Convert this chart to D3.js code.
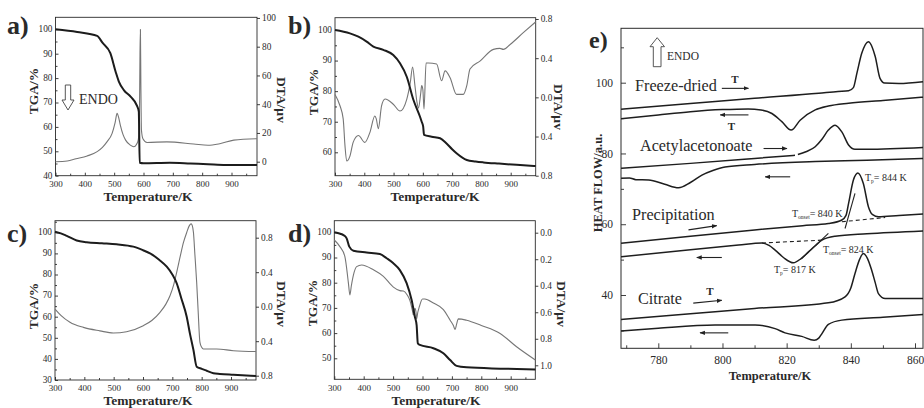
<!DOCTYPE html>
<html>
<head>
<meta charset="utf-8">
<script src="https://cdn.jsdelivr.net/npm/d3@7"></script>
<style>
  body { margin: 0; background: #fff; }
  svg { display: block; }
  text { font-family: "Liberation Serif", "Times New Roman", serif; fill: #2a2a2a; }
</style>
</head>
<body>
<svg id="fig" width="924" height="408"></svg>
<script>
// ---- data: [temperature K, value] ----
const tgaA = [[300,100],[374,98.9],[442,97.3],[460,94.5],[487,90.2],[505,82.6],[516,78.6],[533,75.1],[556,72.4],[578,68.6],[584,66.3],[587,45.3],[600,45.1],[690,45.3],[760,45.0],[820,44.7],[880,44.4],[987,44.4]];
const dtaA = [[300,0],[340,0.5],[370,2],[408,4],[442,7],[460,10],[476,14],[493,19.7],[503,27],[510,33.6],[515,31],[521,25.5],[530,19],[539,15],[555,11.5],[567,10.4],[576,12],[582,15],[586,28],[588,75],[589.5,92],[591,55],[593,22],[598,16],[612,13.4],[680,13.8],[771,12.3],[820,11.4],[860,12.5],[908,15],[987,16]];

const tgaB = [[300,100],[351,98.9],[380,97.8],[408,96.2],[431,94.6],[465,93.5],[499,91.8],[522,89.1],[545,84.7],[568,77.1],[590,71.7],[596,70],[601,68.5],[604,65.7],[630,65.1],[659,64.6],[681,62.9],[700,61],[715,59.7],[750,57.5],[780,57],[807,56.7],[860,56.3],[920,55.9],[985,55.5]];
const dtaB = [[300,0.03],[317,-0.086],[328,-0.22],[334,-0.49],[340,-0.65],[351,-0.6],[362,-0.46],[380,-0.39],[402,-0.46],[419,-0.36],[436,-0.19],[441,-0.22],[448,-0.32],[459,-0.086],[471,-0.017],[499,-0.07],[522,-0.14],[545,-0.02],[557,0.15],[565,0.31],[573,0.12],[580,-0.05],[585,-0.11],[593,0.05],[596,0.12],[600,0.08],[604,-0.12],[611,0.35],[619,0.35],[647,0.34],[664,0.17],[676,0.27],[693,0.2],[715,0.03],[738,0.03],[750,0.12],[761,0.29],[795,0.37],[841,0.49],[863,0.5],[875,0.49],[898,0.54],[943,0.66],[985,0.77]];

const tgaC = [[300,100.3],[320,99.5],[340,98.3],[374,96.1],[408,95.3],[460,94.8],[510,94.3],[567,93.2],[600,91.5],[624,90],[655,87],[681,83.7],[700,80],[715,75.8],[730,69],[749,60],[760,52],[772,44.2],[783,36.3],[800,35.3],[817,34.4],[840,33.2],[862,32.9],[908,32.5],[985,31.9]];
const dtaC = [[300,-0.027],[320,-0.1],[351,-0.18],[397,-0.24],[453,-0.28],[499,-0.305],[544,-0.29],[601,-0.22],[630,-0.16],[658,-0.066],[678,0.03],[692,0.127],[705,0.26],[715,0.4],[728,0.6],[738,0.745],[749,0.86],[758,0.94],[764,0.96],[768,0.94],[772,0.86],[777,0.6],[783,0.28],[788,-0.05],[794,-0.41],[800,-0.47],[806,-0.49],[851,-0.49],[908,-0.51],[985,-0.52]];

const tgaD = [[300,100],[320,99.4],[331,98.9],[342,97.6],[351,94.3],[365,92.7],[410,92],[455,91.4],[478,89.7],[500,87.8],[523,85],[546,79.8],[563,73.1],[574,66.5],[580,63.2],[584,56],[591,55.3],[637,54],[671,52],[694,49.3],[716,47],[750,46.4],[864,45.9],[984,45.6]];
const dtaD = [[300,0.055],[319,0.105],[336,0.18],[348,0.38],[353,0.47],[358,0.4],[365,0.32],[376,0.256],[393,0.244],[433,0.28],[467,0.33],[501,0.41],[523,0.437],[535,0.44],[548,0.47],[557,0.51],[565,0.58],[569,0.62],[574,0.57],[578,0.6],[580,0.65],[584,0.6],[589,0.56],[600,0.5],[608,0.5],[637,0.53],[671,0.58],[694,0.66],[705,0.7],[711,0.73],[716,0.69],[722,0.65],[750,0.66],[800,0.7],[864,0.76],[920,0.86],[984,0.96]];

// panel e: DSC heating / cooling curves (null = small break in the trace)
const fdHeat = [[768.4,92.5],[790,94.1],[810,95.6],[830,97.0],[836,97.5],[839.3,97.7],[840.8,98.6],[841.9,102.7],[843.4,108.3],[845.5,111.6],[847.6,107.4],[849.1,101.2],[850.5,99.9],[855,99.8],[862.5,100.3]];
const fdCool = [[768.4,89.8],[780,90.9],[790,91.8],[800,92.4],[808,92.6],[812,92.3],[815.4,91.3],[818.5,89],[821.4,86.6],[824.2,89.4],[828.9,92.3],[833,93.4],[839.3,94.2],[850,95],[862.5,95.9]];
const acHeat = [[768.4,75.8],[790,77.2],[810,78.6],[822.6,79.5],[822.9,null],[823.5,79.7],[826,80.5],[828.9,81.9],[831,84],[833,86.6],[835.1,88],[837.2,86.1],[839.3,82.4],[841.3,81.2],[845,81.2],[862.5,81.7]];
const acCool = [[768.4,73.0],[771,73.1],[773,72.6],[777,72.5],[782,71.3],[786.3,70.3],[790,71.8],[793.6,73.9],[797,75.2],[800.8,76.2],[810,76.9],[828.9,77.7],[845,78.1],[862.5,78.6]];
const prHeat = [[768.4,54.6],[790,56.6],[810,58.4],[825,59.6],[833,60.2],[837.2,61.2],[838.5,62.5],[839.3,65.9],[840.8,72.5],[842.2,74.5],[843.9,71.5],[845.5,64.9],[846.8,62.7],[848.6,62.1],[855,62.5],[862.5,62.9]];
const prCool = [[768.4,50.8],[790,52.8],[805,54.1],[812.3,54.7],[814.5,54],[816.4,52.7],[819,50.6],[822.1,49.1],[824.5,50.3],[826.8,52.2],[829,54],[831,55.5],[835.1,56.6],[845,57.3],[862.5,58.1]];
const ctHeat = [[768.4,33.1],[790,34.7],[810,36.2],[833,37.8],[838.2,39.5],[840,42],[841.3,46.1],[842.8,50.2],[843.9,51.7],[845.2,50.3],[846.5,47],[847.6,43.5],[848.6,40.4],[850.7,39],[862.5,39]];
const ctCool = [[768.4,29.8],[780,30.6],[797.7,31.5],[810.2,31.5],[816.4,30.5],[819.5,29.3],[824.7,28.3],[828.6,27.2],[830,27.8],[831,29.1],[833,31.7],[837.2,32.9],[850,33.7],[862.5,34.5]];

// onset construction lines in e: [[T1,v1],[T2,v2]]
const dashedLines = [[[837.2,60.7],[850.7,61.9]], [[812.3,54.7],[831,55.5]]];
const tangentLines = [[[838.2,58.8],[841.3,68.7]], [[824.7,50.3],[833,57.4]]];
// direction arrows in e: [T from, T to, v from, v to]
const dirArrows = [[799.8,808.1,98.4,98.4],[808.1,799.3,90.9,90.9],[812.8,820.1,81.4,81.4],[821.1,813.3,73.4,73.4],
                   [789.4,798.2,58.4,59.6],[799.8,792,50.6,50.6],[790.9,799.8,37.7,38.5],[801.8,793,29.3,29.3]];

// ticks
const tempTicks = [300,400,500,600,700,800,900];
const tempMinor = [350,450,550,650,750,850,950];
const tgaTicksA = [40,50,60,70,80,90,100];
const tgaTicksB = [60,70,80,90,100];
const tgaTicksC = [30,40,50,60,70,80,90,100];
const tgaTicksD = [50,60,70,80,90,100];
const dtaTicksA = [0,20,40,60,80,100];
const dtaTicksBC = [-0.8,-0.4,0,0.4,0.8];
const dtaTicksD = [0,0.2,0.4,0.6,0.8,1.0];
const eTempTicks = [780,800,820,840,860];
const eTempMinor = [770,790,810,830,850];
const eFlowTicks = [40,60,80,100];
const eFlowMinor = [30,50,70,90,110];

const svg = d3.select('#fig');
const ink = '#2a2a2a';

function axis(g, ax, tr, size) {
  const a = g.append('g').attr('transform', tr).call(ax);
  a.select('.domain').remove();
  a.selectAll('line').attr('stroke', ink).attr('stroke-width', 0.9);
  a.selectAll('text').attr('font-size', size).attr('font-family', 'Liberation Serif').attr('fill', '#333');
  return a;
}

function title(g, txt, x, y, rot, size) {
  g.append('text').attr('transform', `translate(${x},${y}) rotate(${rot})`)
    .attr('text-anchor', 'middle').attr('dy', '0.35em')
    .attr('font-size', size).attr('font-weight', 'bold').text(txt);
}

function tgaPanel(p) {
  const g = svg.append('g');
  const b = p.box;
  const x = d3.scaleLinear().domain([300, 900]).range(p.xr);
  const yL = d3.scaleLinear().domain(p.yLd).range(p.yLr);
  const yR = d3.scaleLinear().domain(p.yRd).range(p.yRr);

  g.append('rect').attr('x', b.l).attr('y', b.t).attr('width', b.r - b.l).attr('height', b.b - b.t)
    .attr('fill', 'none').attr('stroke', ink).attr('stroke-width', 0.9);

  axis(g, d3.axisBottom(x).tickValues(tempTicks).tickSize(-3).tickPadding(5), `translate(0,${b.b})`, 9);
  axis(g, d3.axisBottom(x).tickValues(tempMinor.filter(v => x(v) < b.r - 1)).tickSize(-2).tickFormat(''), `translate(0,${b.b})`, 9);
  const la = axis(g, d3.axisLeft(yL).tickValues(p.lt).tickSize(-3).tickPadding(3), `translate(${b.l},0)`, 9.3);
  la.selectAll('text').attr('dy', '0.25em');
  axis(g, d3.axisLeft(yL).tickValues(p.lt.map(v => v + 5).filter(v => yL(v) > b.t + 1)).tickSize(-2).tickFormat(''), `translate(${b.l},0)`, 9.3);
  axis(g, d3.axisRight(yR).tickValues(p.rt).tickSize(3).tickPadding(2).tickFormat(p.rf), `translate(${b.r},0)`, 9.3);

  const line = (ys) => d3.line().x(d => x(d[0])).y(d => ys(d[1])).curve(d3.curveMonotoneX);
  g.append('path').datum(p.dta).attr('d', line(yR)).attr('fill', 'none').attr('stroke', '#767676').attr('stroke-width', 1.1);
  g.append('path').datum(p.tga).attr('d', line(yL)).attr('fill', 'none').attr('stroke', '#1c1c1c').attr('stroke-width', 2);

  title(g, 'TGA/%', p.tt[0], p.tt[1], -90, 13.5);
  title(g, 'DTA/\u00b5v', p.dt[0], p.dt[1], 90, 13.5);
  g.append('text').attr('x', p.xt[0]).attr('y', p.xt[1]).attr('text-anchor', 'middle')
    .attr('font-size', 13.5).attr('font-weight', 'bold').text('Temperature/K');
  g.append('text').attr('x', p.lab[0]).attr('y', p.lab[1]).attr('font-size', 26).attr('font-weight', 'bold')
    .attr('fill', '#111').text(p.name);
  return g;
}

const absFmt = d => Math.abs(d).toFixed(1);

const ga = tgaPanel({name: 'a)', lab: [7, 34], box: {l: 55.5, t: 17.3, r: 257, b: 175.7},
  xr: [55.5, 231.5], yLd: [40, 100], yLr: [175.7, 29.3], yRd: [0, 80], yRr: [161.7, 46.7],
  lt: tgaTicksA, rt: dtaTicksA, rf: d3.format('d'), tga: tgaA, dta: dtaA,
  tt: [33, 91], dt: [282, 100], xt: [148, 201]});

tgaPanel({name: 'b)', lab: [288, 34], box: {l: 335, t: 17.7, r: 535.7, b: 175.7},
  xr: [335, 510.7], yLd: [60, 100], yLr: [152.3, 30], yRd: [-0.8, 0.8], yRr: [175.7, 19],
  lt: tgaTicksB, rt: dtaTicksBC, rf: absFmt, tga: tgaB, dta: dtaB,
  tt: [313, 92], dt: [559, 107], xt: [435, 201]});

tgaPanel({name: 'c)', lab: [7, 242], box: {l: 55, t: 220.7, r: 256, b: 380},
  xr: [55, 231], yLd: [30, 100], yLr: [380, 232.3], yRd: [-0.8, 0.8], yRr: [375.7, 237.7],
  lt: tgaTicksC, rt: dtaTicksBC, rf: absFmt, tga: tgaC, dta: dtaC,
  tt: [33, 306], dt: [282, 304], xt: [148, 405]});

tgaPanel({name: 'd)', lab: [288, 242], box: {l: 334.3, t: 220.7, r: 535.3, b: 379.3},
  xr: [334.3, 510.7], yLd: [50, 100], yLr: [358.3, 232.3], yRd: [0, 1], yRr: [232.7, 365.3],
  lt: tgaTicksD, rt: dtaTicksD, rf: d3.format('.1f'), tga: tgaD, dta: dtaD,
  tt: [312, 303], dt: [562, 304], xt: [436, 405]});

// hollow ENDO arrow (down) in a
ga.append('path').attr('d', 'M65.3,85 L70.7,85 L70.7,100 L74,100 L68,110 L62,100 L65.3,100 Z')
  .attr('fill', 'none').attr('stroke', '#444').attr('stroke-width', 0.9);
ga.append('text').attr('x', 79).attr('y', 104).attr('font-size', 14).text('ENDO');

// ---- panel e ----
const ge = svg.append('g');
const eb = {l: 621, t: 28.3, r: 923, b: 348.3};
const ex = d3.scaleLinear().domain([780, 860]).range([658.3, 915]);
const ey = d3.scaleLinear().domain([40, 100]).range([295, 82.7]);

ge.append('rect').attr('x', eb.l).attr('y', eb.t).attr('width', eb.r - eb.l).attr('height', eb.b - eb.t)
  .attr('fill', 'none').attr('stroke', ink).attr('stroke-width', 1);
axis(ge, d3.axisBottom(ex).tickValues(eTempTicks).tickSize(-5).tickPadding(8), `translate(0,${eb.b})`, 11.5);
axis(ge, d3.axisBottom(ex).tickValues(eTempMinor).tickSize(-3).tickFormat(''), `translate(0,${eb.b})`, 11.5);
axis(ge, d3.axisLeft(ey).tickValues(eFlowTicks).tickSize(-5).tickPadding(8), `translate(${eb.l},0)`, 11.5);
axis(ge, d3.axisLeft(ey).tickValues(eFlowMinor).tickSize(-3).tickFormat(''), `translate(${eb.l},0)`, 11.5);

const eLine = d3.line().defined(d => d[1] != null).x(d => ex(d[0])).y(d => ey(d[1])).curve(d3.curveMonotoneX);
[fdHeat, fdCool, acHeat, acCool, prHeat, prCool, ctHeat, ctCool].forEach(s => {
  ge.append('path').datum(s).attr('d', eLine).attr('fill', 'none').attr('stroke', '#1e1e1e').attr('stroke-width', 1.5);
});
const straight = d3.line().x(d => ex(d[0])).y(d => ey(d[1]));
dashedLines.forEach(s => ge.append('path').datum(s).attr('d', straight).attr('stroke', '#222')
  .attr('stroke-width', 1.1).attr('stroke-dasharray', '4,3').attr('fill', 'none'));
tangentLines.forEach(s => ge.append('path').datum(s).attr('d', straight).attr('stroke', '#222')
  .attr('stroke-width', 1.1).attr('fill', 'none'));

svg.append('defs').append('marker').attr('id', 'head').attr('viewBox', '0 0 10 10')
  .attr('refX', 9).attr('refY', 5).attr('markerWidth', 5).attr('markerHeight', 5).attr('orient', 'auto')
  .append('path').attr('d', 'M0,1 L10,5 L0,9 Z').attr('fill', '#222');
dirArrows.forEach(a => ge.append('line')
  .attr('x1', ex(a[0])).attr('x2', ex(a[1])).attr('y1', ey(a[2])).attr('y2', ey(a[3]))
  .attr('stroke', '#222').attr('stroke-width', 1.1).attr('marker-end', 'url(#head)'));

// labels in e
const eLabels = [['Freeze-dried', 635, 91], ['Acetylacetonoate', 640, 151], ['Precipitation', 632, 220], ['Citrate', 638, 304]];
eLabels.forEach(l => ge.append('text').attr('x', l[1]).attr('y', l[2]).attr('font-size', 16.2).text(l[0]));
[[735, 83], [731.5, 130], [710, 295]].forEach(t => ge.append('text').attr('x', t[0]).attr('y', t[1])
  .attr('text-anchor', 'middle').attr('font-size', 11).attr('font-weight', 'bold').text('T'));

function subLabel(x, y, sub, rest) {
  const t = ge.append('text').attr('x', x).attr('y', y).attr('font-size', 10);
  t.append('tspan').text('T');
  t.append('tspan').attr('font-size', 5.5).attr('dy', 2).text(sub);
  t.append('tspan').attr('dy', -2).text(rest);
}
subLabel(865, 181, 'p', '= 844 K');
subLabel(792, 216.5, 'onset', '= 840 K');
subLabel(823, 252.5, 'onset', '= 824 K');
subLabel(774, 273, 'p', '= 817 K');

ge.append('path').attr('d', 'M653.3,66.7 L661,66.7 L661,46.7 L664.5,46.7 L657.2,37.7 L650,46.7 L653.3,46.7 Z')
  .attr('fill', 'none').attr('stroke', '#444').attr('stroke-width', 0.9);
ge.append('text').attr('x', 667).attr('y', 60).attr('font-size', 11.5).text('ENDO');

title(ge, 'HEAT FLOW/a.u.', 598, 183, -90, 12.5);
ge.append('text').attr('x', 770).attr('y', 380).attr('text-anchor', 'middle')
  .attr('font-size', 12.5).attr('font-weight', 'bold').text('Temperature/K');
ge.append('text').attr('x', 589).attr('y', 48).attr('font-size', 24).attr('font-weight', 'bold')
  .attr('fill', '#111').text('e)');
</script>
</body>
</html>
